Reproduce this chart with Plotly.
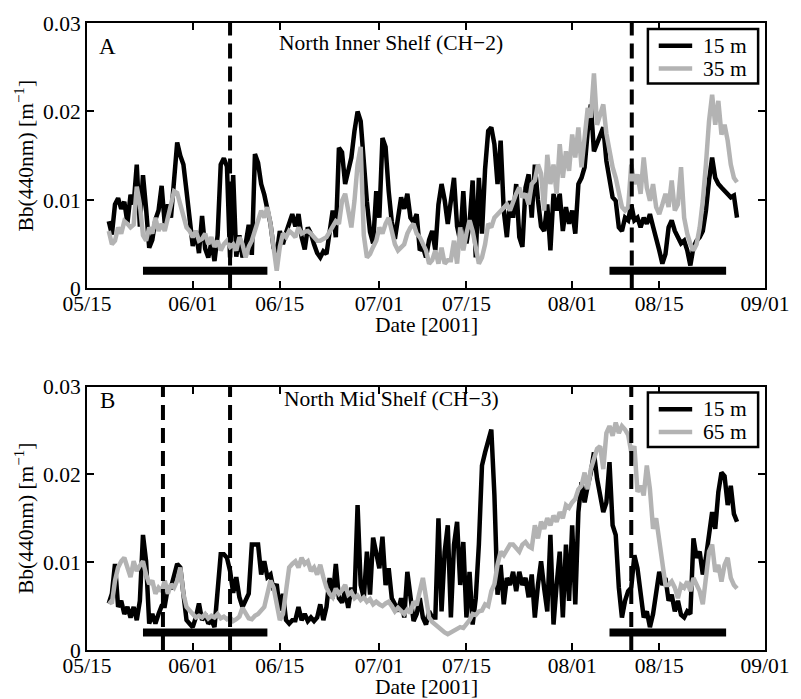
import numpy as np
import pandas as pd
import plotly.graph_objects as go
from plotly.subplots import make_subplots

# ---------------- data (values in units of 1e-3 m^-1) ----------------
# half-daily samples starting 2001-05-18 12:00
sample_start = "2001-05-18 12:00"
n_samples = 203

top_15m = [
    7.6, 6.1, 9.5, 10.2, 9.0, 9.8, 7.4, 10.6, 9.5, 14.0,
    7.0, 12.8, 9.0, 4.6, 5.5, 7.8, 8.8, 11.6, 7.3, 9.5,
    8.0, 12.1, 16.5, 15.0, 14.0, 11.0, 7.6, 4.8, 6.5, 4.0,
    8.2, 4.5, 3.5, 5.2, 3.1, 6.0, 14.0, 14.7, 13.8, 3.5,
    12.8, 3.6, 6.0, 3.5, 5.0, 7.2, 3.8, 15.2, 14.2, 11.8,
    10.6, 8.8, 7.3, 4.6, 3.9, 6.5, 5.0, 6.3, 7.4, 8.4,
    7.0, 8.4, 5.8, 4.4, 6.9, 6.2, 5.0, 4.0, 3.5, 4.2,
    3.9, 6.0, 8.8, 5.8, 15.9, 15.4, 11.8, 13.3, 14.8, 17.8,
    20.0, 18.9, 14.0, 9.8, 6.4, 5.1, 11.0, 8.0, 17.0, 16.0,
    11.0, 7.5, 5.6, 8.0, 10.3, 9.0, 10.7, 8.0, 7.5, 8.4,
    4.3, 4.7, 3.5, 5.5, 6.5, 4.3, 9.5, 11.8, 10.0, 7.3,
    9.9, 12.5, 7.0, 5.4, 11.0, 5.1, 7.3, 12.2, 3.5, 12.5,
    6.2, 13.5, 17.8, 18.2, 16.3, 11.8, 16.7, 8.8, 5.8, 9.9,
    8.0, 11.8, 5.8, 4.7, 11.4, 12.9, 8.0, 14.0, 10.0, 7.0,
    6.5, 9.5, 4.3, 10.7, 8.8, 10.7, 6.5, 9.2, 7.3, 8.8,
    6.2, 11.8, 12.5, 13.7, 17.8, 20.8, 15.5, 16.3, 17.4, 18.2,
    14.4, 12.0, 10.3, 9.9, 6.9, 6.5, 8.0, 7.7, 9.5, 7.7,
    8.0, 6.9, 8.0, 7.3, 8.4, 7.0, 5.4, 4.3, 2.8, 3.9,
    6.9, 7.7, 6.5, 5.8, 5.1, 5.4, 4.3, 2.6, 4.7, 5.4,
    5.8, 6.5, 8.8, 12.2, 14.8, 12.5, 11.8, 11.4, 11.0, 10.7,
    10.3, 10.5, 8.0,
]

top_35m = [
    6.5, 5.0, 5.4, 6.9, 6.2, 7.6, 7.3, 6.9, 7.2, 11.5,
    9.5, 6.0, 5.4, 6.9, 6.2, 8.0, 6.5, 7.3, 6.5, 8.0,
    9.8, 11.0, 10.8, 9.5, 8.0, 6.9, 6.5, 5.8, 6.5, 5.4,
    5.6, 6.2, 5.0, 5.8, 4.7, 5.4, 4.3, 5.0, 5.4, 4.7,
    5.0, 4.3, 5.8, 5.0, 3.5, 4.7, 5.4, 6.5, 7.5, 8.8,
    8.0, 9.2, 7.3, 5.0, 2.0, 4.7, 6.2, 5.8, 6.5, 6.2,
    5.8, 6.9, 6.2, 6.4, 6.5, 6.2, 5.8, 5.4, 5.4, 5.6,
    5.8, 6.4, 6.9, 7.6, 7.3, 9.9, 10.7, 8.8, 6.9, 9.9,
    14.0, 16.0, 6.0, 3.5, 3.9, 4.7, 5.4, 6.9, 6.2, 7.3,
    8.0, 6.5, 5.0, 4.3, 4.6, 5.0, 6.2, 6.9, 7.3, 6.2,
    5.8, 5.0, 4.3, 2.8, 3.2, 4.3, 2.8, 4.6, 2.8, 3.2,
    3.2, 5.4, 2.8, 6.9, 4.3, 6.2, 7.7, 6.5, 4.3, 2.8,
    3.5, 5.0, 7.3, 6.9, 8.0, 8.4, 8.8, 9.2, 9.5, 8.8,
    9.9, 10.7, 11.4, 10.3, 10.7, 9.5, 11.8, 12.2, 14.0, 13.0,
    8.8, 15.1, 11.8, 14.0, 10.7, 16.3, 12.5, 15.5, 13.3, 17.4,
    14.8, 18.2, 13.7, 17.0, 20.4, 19.3, 24.3, 18.5, 19.7, 20.8,
    17.5, 15.5, 13.7, 12.5, 10.7, 9.2, 8.8, 9.2, 14.0, 11.8,
    12.9, 10.7, 14.8, 11.4, 9.9, 11.8, 9.2, 8.4, 9.5, 10.7,
    9.2, 12.2, 8.8, 9.5, 13.7, 8.0, 6.2, 5.0, 4.3, 5.0,
    6.9, 9.9, 14.0, 18.9, 21.9, 18.5, 21.2, 17.4, 18.5, 16.7,
    14.0, 12.5, 12.0,
]

bottom_15m = [
    5.3, 6.4, 9.8, 4.9, 5.6, 4.1, 4.9, 3.7, 4.9, 3.4,
    5.6, 13.1, 10.1, 3.0, 4.1, 3.0, 4.1, 5.0, 5.0, 7.1,
    7.1, 8.3, 9.8, 9.4, 6.8, 3.4, 3.0, 2.6, 3.7, 5.3,
    3.4, 4.1, 3.0, 3.4, 2.6, 6.4, 10.9, 10.9, 10.5, 9.0,
    6.5, 8.3, 6.0, 4.9, 5.6, 6.4, 12.0, 12.0, 12.0, 8.6,
    10.1, 8.3, 8.6, 6.8, 7.5, 4.5, 6.4, 3.4, 3.0, 3.4,
    3.4, 4.9, 3.4, 4.1, 3.3, 3.7, 3.3, 3.7, 5.2, 3.4,
    4.9, 8.2, 5.9, 9.8, 5.9, 5.4, 6.7, 4.8, 7.1, 6.0,
    16.5, 7.4, 5.9, 11.2, 6.3, 12.8, 11.2, 9.3, 12.9, 7.4,
    9.3, 5.9, 5.2, 4.4, 5.9, 3.7, 8.9, 5.6, 3.3, 4.1,
    5.9, 3.7, 2.9, 4.4, 3.7, 3.7, 15.0, 4.4, 11.2, 14.2,
    3.7, 12.0, 14.6, 7.4, 12.3, 3.7, 8.9, 2.9, 5.9, 12.0,
    21.0, 22.5, 24.0, 25.1, 17.6, 6.3, 9.7, 5.2, 8.2, 7.4,
    8.9, 6.7, 8.9, 7.4, 8.2, 6.0, 8.6, 3.7, 7.4, 10.1,
    7.0, 4.4, 13.1, 2.9, 7.4, 11.2, 3.7, 12.0, 5.6, 14.2,
    5.2, 15.7, 19.1, 16.8, 18.7, 20.2, 22.5, 19.5, 17.6, 15.7,
    16.8, 21.4, 14.2, 13.1, 7.1, 3.7, 5.6, 6.7, 7.1, 10.8,
    9.3, 6.7, 3.7, 4.4, 2.6, 4.1, 6.7, 8.9, 7.4, 8.2,
    5.6, 6.3, 4.4, 5.6, 4.0, 3.7, 4.4, 4.1, 12.7, 10.5,
    11.2, 8.6, 10.5, 12.7, 15.7, 13.8, 18.0, 20.2, 19.8, 16.5,
    18.7, 15.5, 14.6,
]

bottom_65m = [
    5.6, 5.3, 7.9, 9.4, 10.1, 10.5, 9.4, 8.3, 10.1, 9.0,
    9.6, 10.1, 8.6, 7.5, 7.9, 6.4, 7.1, 6.7, 7.9, 6.4,
    7.5, 7.1, 7.9, 9.4, 6.4, 4.9, 4.5, 4.1, 3.7, 3.9,
    3.7, 4.1, 3.6, 3.9, 3.7, 4.1, 3.6, 3.8, 3.5, 3.7,
    3.3, 3.5, 3.8, 4.8, 4.1, 3.6, 3.5, 3.9, 4.1, 4.5,
    4.9, 6.4, 7.9, 7.1, 4.9, 3.4, 4.1, 7.1, 9.4, 9.8,
    10.1, 9.4, 10.5, 9.8, 10.1, 9.0, 9.4, 8.6, 9.7, 8.3,
    7.1, 6.4, 6.0, 7.0, 6.4, 6.8, 7.4, 6.3, 6.6, 5.9,
    6.2, 5.7, 6.0, 5.5, 5.8, 5.2, 5.5, 5.2, 5.0, 5.3,
    5.5, 5.0, 4.4, 4.8, 4.4, 4.1, 4.6, 4.2, 5.5, 5.1,
    6.7, 8.2, 6.0, 3.7, 3.2, 2.9, 2.6, 2.2, 2.0, 1.8,
    2.0, 2.2, 2.4, 2.6, 2.5, 2.9, 3.4, 4.1, 4.0, 4.4,
    4.5, 5.2, 5.0, 6.7, 7.5, 9.7, 11.2, 10.8, 11.5, 12.0,
    12.0, 11.6, 11.2, 12.0, 12.3, 11.8, 11.6, 14.2, 12.7, 14.6,
    13.8, 15.0, 14.2, 15.3, 14.6, 15.7, 15.0, 16.5, 16.2, 16.8,
    17.2, 18.3, 18.7, 20.2, 18.3, 20.6, 21.7, 22.9, 23.2, 20.6,
    24.7, 25.5, 24.4, 25.9, 24.7, 25.5, 25.1, 24.5, 22.5, 23.2,
    18.0, 18.7, 17.6, 21.0, 18.3, 13.8, 15.0, 12.7, 9.7, 7.4,
    7.4, 7.8, 7.1, 5.9, 7.4, 7.1, 7.8, 6.7, 8.2, 7.4,
    6.7, 5.2, 8.2, 11.2, 12.0, 8.9, 9.7, 7.8, 9.7, 10.5,
    8.2, 7.4, 7.0,
]

# thick horizontal period bars (start, end) and their level
bar_periods = [("2001-05-24", "2001-06-13"), ("2001-08-07", "2001-08-25 18:00")]
bar_level = 0.002
# dashed event lines
events_top = ["2001-06-07", "2001-08-10 14:00"]
events_bottom = ["2001-05-27 05:00", "2001-06-07", "2001-08-10 12:00"]

tick_dates = ["2001-05-15", "2001-06-01", "2001-06-15", "2001-07-01",
              "2001-07-15", "2001-08-01", "2001-08-15", "2001-09-01"]
tick_text = ["05/15", "06/01", "06/15", "07/01", "07/15", "08/01", "08/15", "09/01"]
y_ticks = [0, 0.01, 0.02, 0.03]
y_tick_text = ["0", "0.01", "0.02", "0.03"]

panel_letters = ["A", "B"]
panel_titles = ["North Inner Shelf (CH−2)", "North Mid Shelf (CH−3)"]
legend_names = [["15 m", "35 m"], ["15 m", "65 m"]]

times = pd.date_range(sample_start, periods=n_samples, freq="12h")
scale = 1e-3

FONT = "Liberation Serif, Times New Roman, serif"
FS = 21.5
GRAY = "#b3b3b3"
LW = 4.5

W, H = 801, 699
L, R, T, B = 87, 25, 17, 49
ph = H - T - B


def py(p):
    return (H - B - p) / ph


def px(p):
    return (p - L) / (W - L - R)


fig = make_subplots(rows=2, cols=1, vertical_spacing=0.0)

panels = [
    (1, top_15m, top_35m, events_top),
    (2, bottom_15m, bottom_65m, events_bottom),
]
for row, s15, sdeep, events in panels:
    names = legend_names[row - 1]
    fig.add_trace(go.Scatter(x=times, y=np.array(s15) * scale, mode="lines",
                             line=dict(color="black", width=LW), name=names[0],
                             showlegend=False), row=row, col=1)
    fig.add_trace(go.Scatter(x=times, y=np.array(sdeep) * scale, mode="lines",
                             line=dict(color=GRAY, width=LW), name=names[1],
                             showlegend=False), row=row, col=1)
    for a, b in bar_periods:
        fig.add_trace(go.Scatter(x=[a, b], y=[bar_level, bar_level], mode="lines",
                                 line=dict(color="black", width=8),
                                 showlegend=False, hoverinfo="skip"), row=row, col=1)
    yref = "y domain" if row == 1 else "y2 domain"
    xref = "x" if row == 1 else "x2"
    for e in events:
        fig.add_shape(type="line", x0=e, x1=e, y0=0, y1=1, xref=xref, yref=yref,
                      line=dict(color="black", width=4, dash="15px,8px"),
                      layer="above")

for row in (1, 2):
    fig.update_xaxes(row=row, col=1, type="date",
                     range=["2001-05-15", "2001-09-01"],
                     tickvals=tick_dates, ticktext=tick_text,
                     ticks="inside", ticklen=7, tickwidth=2, tickcolor="black",
                     showline=True, linewidth=2, linecolor="black", mirror="ticks",
                     showgrid=False, zeroline=False, ticklabelstandoff=-5,
                     tickfont=dict(family=FONT, size=FS, color="black"))
    fig.update_yaxes(row=row, col=1, range=[0, 0.03],
                     tickvals=y_ticks, ticktext=y_tick_text,
                     ticks="inside", ticklen=7, tickwidth=2, tickcolor="black",
                     showline=True, linewidth=2, linecolor="black", mirror="ticks",
                     showgrid=False, zeroline=False,
                     tickfont=dict(family=FONT, size=FS, color="black"),
                     title=dict(text="Bb(440nm) [m<sup>−1</sup>]", standoff=4,
                                font=dict(family=FONT, size=FS, color="black")))

fig.update_layout(
    width=W, height=H,
    margin=dict(l=L, r=R, t=T, b=B),
    paper_bgcolor="white", plot_bgcolor="white",
    font=dict(family=FONT, size=FS, color="black"),
    yaxis=dict(domain=[py(285), 1.0]),
    yaxis2=dict(domain=[0.0, py(384)]),
    showlegend=False,
)

# panel letters, titles and x-axis titles
panel_top_px = [17, 384]
axis_bottom_px = [285, 650]
letter_dy = [24, 14]
title_dy = [20, 13]
for i in range(2):
    top = panel_top_px[i]
    fig.add_annotation(text=panel_letters[i], x=px(108), y=py(top + letter_dy[i]),
                       xref="paper", yref="paper", xanchor="center", yanchor="middle",
                       showarrow=False, font=dict(family=FONT, size=23, color="black"))
    fig.add_annotation(text=panel_titles[i], x=px(396), y=py(top + title_dy[i]),
                       xref="paper", yref="paper", xanchor="center", yanchor="middle",
                       showarrow=False, font=dict(family=FONT, size=FS, color="black"))
    fig.add_annotation(text="Date [2001]", x=px(431.5), y=py(axis_bottom_px[i] + 37),
                       xref="paper", yref="paper", xanchor="center", yanchor="middle",
                       showarrow=False, font=dict(family=FONT, size=FS, color="black"))

    # legend box (drawn by hand to match the compact original layout)
    y0 = top + 6
    fig.add_shape(type="rect", xref="paper", yref="paper",
                  x0=px(657), x1=px(769), y0=py(y0), y1=py(y0 + 55),
                  line=dict(color="black", width=2.5), fillcolor="white",
                  layer="above")
    for k, col in enumerate(["black", GRAY]):
        ly = y0 + 17 + 23 * k
        fig.add_shape(type="line", xref="paper", yref="paper",
                      x0=px(668), x1=px(702), y0=py(ly), y1=py(ly),
                      line=dict(color=col, width=LW), layer="above")
        fig.add_annotation(text=legend_names[i][k], x=px(711), y=py(ly),
                           xref="paper", yref="paper", xanchor="left", yanchor="middle",
                           showarrow=False,
                           font=dict(family=FONT, size=FS, color="black"))

fig.write_html("out.html")
